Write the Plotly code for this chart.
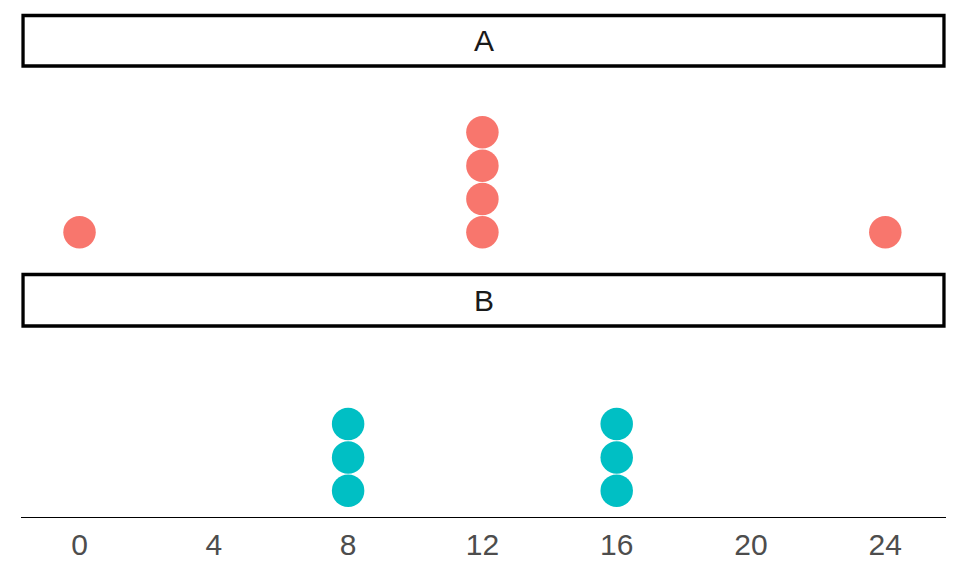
import plotly.graph_objects as go

# dot plot data, one list per facet
values_a = [0, 12, 12, 12, 12, 24]
values_b = [8, 8, 8, 16, 16, 16]
facet_labels = ["A", "B"]
tick_vals = [0, 4, 8, 12, 16, 20, 24]

color_a = "#F8766D"
color_b = "#00BFC4"


# stack repeated values like geom_dotplot does
def stack(values):
    seen = {}
    ys = []
    for v in values:
        ys.append(seen.get(v, 0))
        seen[v] = seen.get(v, 0) + 1
    return ys


fig = go.Figure()
fig.add_trace(go.Scatter(x=values_a, y=stack(values_a), mode="markers",
                         marker=dict(size=32.5, color=color_a, line=dict(width=0)),
                         xaxis="x", yaxis="y2", showlegend=False))
fig.add_trace(go.Scatter(x=values_b, y=stack(values_b), mode="markers",
                         marker=dict(size=32.5, color=color_b, line=dict(width=0)),
                         xaxis="x", yaxis="y", showlegend=False))

xr = [-1.743, 25.808]
font = "Liberation Sans, Arial, sans-serif"

# page body adds an 8px offset, so margins are shifted to compensate
fig.update_layout(
    width=960, height=576,
    margin=dict(l=13, r=22, t=6, b=67),
    paper_bgcolor="white", plot_bgcolor="white",
    font=dict(family=font),
    xaxis=dict(range=xr, tickvals=tick_vals, ticks="", showgrid=False,
               zeroline=False, showline=True, linecolor="black", linewidth=1.3,
               tickfont=dict(size=30, color="#4D4D4D"), ticklabelstandoff=1,
               anchor="y"),
    yaxis=dict(domain=[0, 0.3797], range=[-0.79, 4.946], visible=False,
               showgrid=False, zeroline=False),
    yaxis2=dict(domain=[0.5137, 0.8966], range=[-0.79, 4.99], visible=False,
                showgrid=False, zeroline=False),
)

# facet strips
strips = [(0.8966, 0.997, facet_labels[0]), (0.3797, 0.4821, facet_labels[1])]
for y0, y1, label in strips:
    fig.add_shape(type="rect", xref="paper", yref="paper",
                  x0=0.0022, x1=0.9978, y0=y0, y1=y1,
                  line=dict(color="black", width=3.3), fillcolor="white")
    fig.add_annotation(text=label, xref="paper", yref="paper",
                       x=0.5, y=(y0 + y1) / 2, xanchor="center", yanchor="middle",
                       showarrow=False, font=dict(size=30, color="#1A1A1A"))

fig.write_html("out.html")
